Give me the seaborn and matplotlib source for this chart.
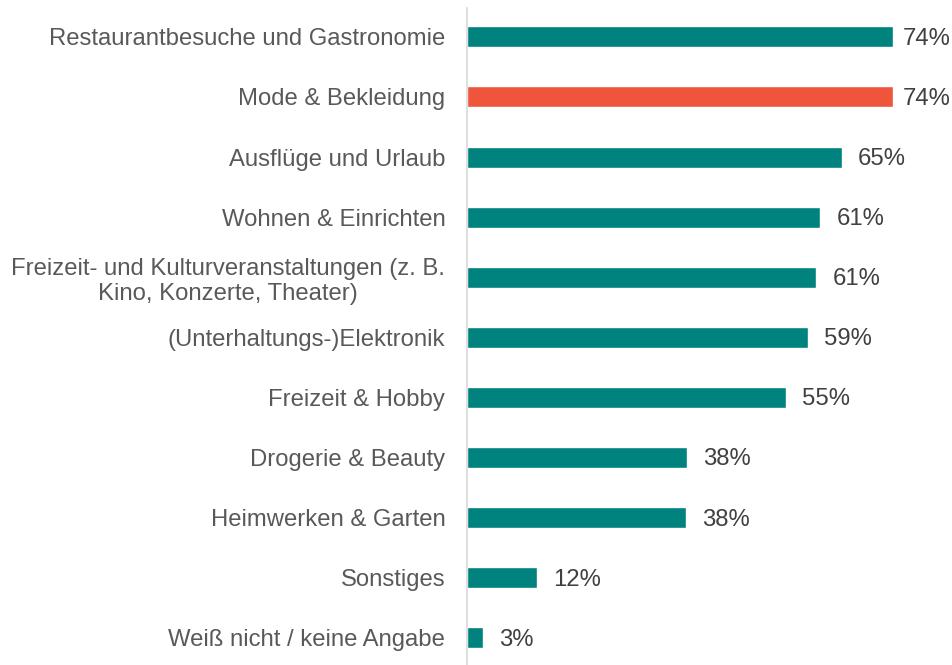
import pandas as pd
import matplotlib.pyplot as plt
import seaborn as sns

# daten
kategorien = [
    "Restaurantbesuche und Gastronomie",
    "Mode & Bekleidung",
    "Ausflüge und Urlaub",
    "Wohnen & Einrichten",
    "Freizeit- und Kulturveranstaltungen (z. B.\nKino, Konzerte, Theater)",
    "(Unterhaltungs-)Elektronik",
    "Freizeit & Hobby",
    "Drogerie & Beauty",
    "Heimwerken & Garten",
    "Sonstiges",
    "Weiß nicht / keine Angabe",
]
werte = [74, 74, 65.2, 61.4, 60.7, 59.2, 55.4, 38.2, 38.1, 12.1, 2.7]
hervorgehoben = "Mode & Bekleidung"

data = pd.DataFrame({"kategorie": kategorien, "wert": werte})
farben = {k: ("#EE553B" if k == hervorgehoben else "#00827F") for k in kategorien}

sns.set_style("white")
plt.rcParams['font.family'] = ['Liberation Sans', 'DejaVu Sans']

fig = plt.figure(figsize=(9.53, 6.65), dpi=100)
ax = fig.add_axes([467.5 / 953, 0, (953 - 467.5) / 953, 657 / 665])

sns.barplot(data=data, x="wert", y="kategorie", hue="kategorie", palette=farben,
            order=kategorien, width=0.35, legend=False, ax=ax, saturation=1)

xmax = (953 - 467.5) / 5.745
ax.set_xlim(0, xmax)

#werte an den balken, die langen an den rand geschoben
for i, w in enumerate(werte):
    x = w + 2.8
    if x > xmax - 9.8:
        x = w + 1.75
    ax.text(x, i + 0.03, f"{round(w)}%", va="center", ha="left", fontsize=17.2, color="#404040")

ax.set_ylim(10.45, -0.48)
ax.set_xlabel("")
ax.set_ylabel("")
ax.set_xticks([])
ax.tick_params(axis="y", length=0, pad=16, labelsize=17.2, labelcolor="#595959")
for lbl in ax.get_yticklabels():
    lbl.set_multialignment("center")
for s in ["top", "right", "bottom"]:
    ax.spines[s].set_visible(False)
ax.spines["left"].set_color("#D9D9D9")
ax.spines["left"].set_linewidth(1.2)

fig.savefig("out.png", dpi=100)
